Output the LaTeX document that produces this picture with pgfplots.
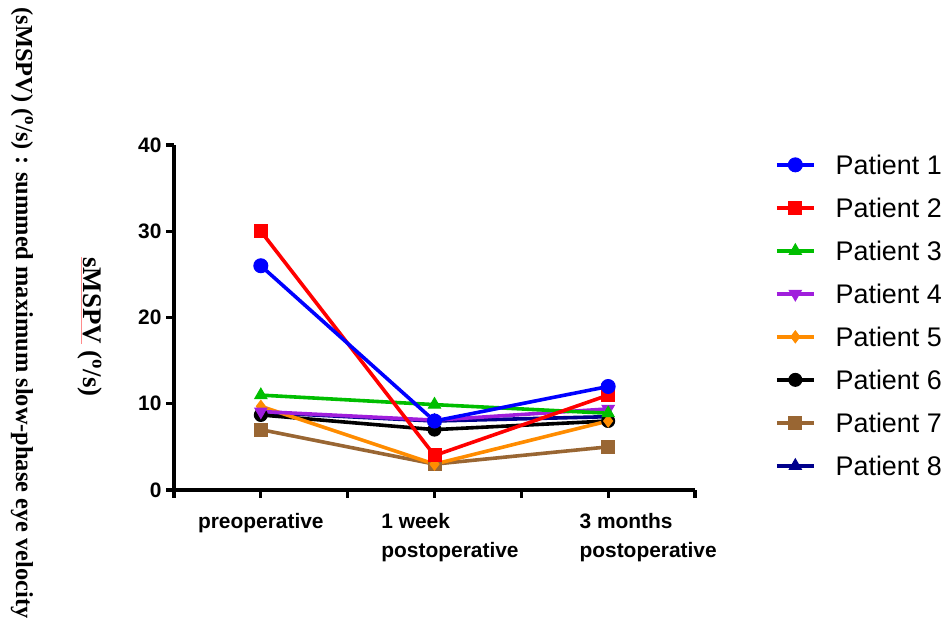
\documentclass[border=0pt]{standalone}
\usepackage{fontspec}
\setmainfont{Liberation Sans}
\newfontfamily\tnr{Liberation Serif}
\usepackage{pgfplots}
\pgfplotsset{compat=1.18}
\definecolor{pblue}{RGB}{0,0,255}
\definecolor{pred}{RGB}{255,0,0}
\definecolor{pgreen}{RGB}{0,190,0}
\definecolor{ppurple}{RGB}{160,30,220}
\definecolor{porange}{RGB}{255,140,0}
\definecolor{pbrown}{RGB}{153,102,51}
\definecolor{pnavy}{RGB}{0,0,140}
\begin{document}
\begin{tikzpicture}
\useasboundingbox (0,0) rectangle (945bp,625bp);
\begin{axis}[
  at={(174bp,135bp)}, anchor=south west,
  scale only axis, width=521bp, height=345bp,
  xmin=-0.5, xmax=2.5, ymin=0, ymax=40,
  axis lines=left, axis line style={-, line width=3.2bp, black},
  xtick={0,1,2},
  xticklabels={preoperative,{\hspace*{31bp}1 week\\\hspace*{31bp}postoperative},{\hspace*{80bp}3 months\\\hspace*{80bp}postoperative}},
  minor xtick={-0.5,0.5,1.5,2.5},
  ytick={0,10,20,30,40},
  tick align=outside, major tick length=8bp, minor tick length=8bp,
  every tick/.style={line width=3.2bp, black},
  minor tick style={line width=3.2bp, black},
  xticklabel style={align=left, font=\bfseries\fontsize{21}{28.5}\selectfont, yshift=-12bp},
  yticklabel style={font=\bfseries\fontsize{21}{21}\selectfont, xshift=-1bp},
  /pgf/number format/assume math mode=true,
  clip=false,
  reverse legend,
  legend cell align=left,
  legend style={at={(1.1536,0.97)}, anchor=north west, draw=none, fill=none,
    inner sep=0pt, outer sep=0pt,
    font=\fontsize{27}{27}\selectfont,
    row sep=24bp, column sep=20bp,
    nodes={inner sep=0pt, text height=19bp, text depth=0bp}},
  legend image code/.code={%
    \draw[mark repeat=2,mark phase=2] plot coordinates {(0bp,0bp) (18.5bp,0bp) (37bp,0bp)};},
]
\addplot[pnavy, line width=3.6bp, mark=triangle*, mark size=7bp, mark options={line width=1bp}] coordinates {(0,9) (1,8) (2,8.5)};
\addlegendentry{Patient 8}
\addplot[pbrown, line width=3.6bp, mark=square*, mark size=6.5bp, mark options={line width=1bp}] coordinates {(0,7) (1,3) (2,5)};
\addlegendentry{Patient 7}
\addplot[black, line width=3.6bp, mark=*, mark size=6.5bp, mark options={line width=1bp}] coordinates {(0,8.7) (1,7) (2,8)};
\addlegendentry{Patient 6}
\addplot[porange, line width=3.6bp, mark=diamond*, mark size=6bp, mark options={line width=1bp}] coordinates {(0,9.7) (1,3) (2,8)};
\addlegendentry{Patient 5}
\addplot[ppurple, line width=3.6bp, mark=triangle*, mark size=7bp, mark options={rotate=180, line width=1bp}] coordinates {(0,9.1) (1,8.1) (2,9.4)};
\addlegendentry{Patient 4}
\addplot[pgreen, line width=3.6bp, mark=triangle*, mark size=7bp, mark options={line width=1bp}] coordinates {(0,11) (1,9.9) (2,8.9)};
\addlegendentry{Patient 3}
\addplot[pred, line width=3.6bp, mark=square*, mark size=6.5bp, mark options={line width=1bp}] coordinates {(0,30) (1,4) (2,11)};
\addlegendentry{Patient 2}
\addplot[pblue, line width=3.6bp, mark=*, mark size=7bp, mark options={line width=1bp}] coordinates {(0,26) (1,8) (2,12)};
\addlegendentry{Patient 1}
\end{axis}
\node[rotate=-90, font=\tnr\bfseries\fontsize{24.5}{24.5}\selectfont] at (22bp,312bp) {(sMSPV) (\textsuperscript{o}/s) : summed maximum slow-phase eye velocity};
\node[rotate=-90, font=\tnr\bfseries\fontsize{27}{27}\selectfont] at (90bp,298bp) {\setbox0\hbox{sMSPV}\rlap{\color{red!45}\rule[-3bp]{\wd0}{0.8bp}}\box0\ (\textsuperscript{o}/s)};
\end{tikzpicture}
\end{document}
